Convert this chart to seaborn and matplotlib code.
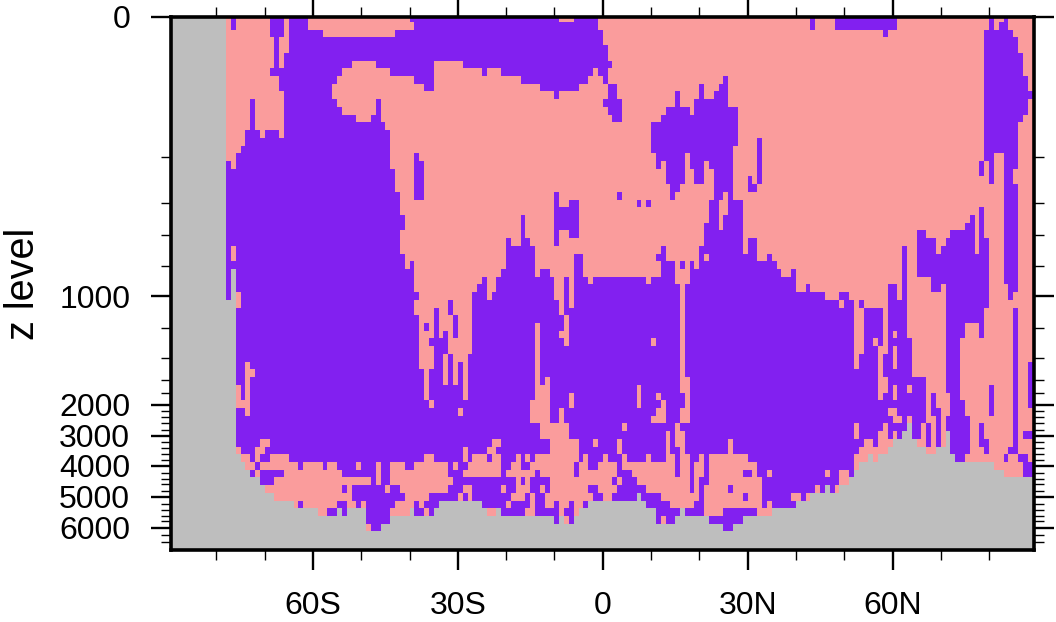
import numpy as np
import matplotlib
matplotlib.use("Agg")
import matplotlib.pyplot as plt
from matplotlib.colors import ListedColormap
import seaborn as sns

# purple cells per model level, as [start, stop) latitude column runs
purple_runs = [
    [(13,14),(21,24),(25,29),(50,81),(84,89),(133,134),(138,151),(170,171),(173,174)],
    [(13,14),(21,24),(25,29),(51,89),(133,134),(138,151),(170,171),(172,174)],
    [(21,24),(25,32),(47,90),(148,149),(169,175)],
    [(22,23),(25,90),(169,176),(179,180)],
    [(22,23),(25,91),(169,176),(179,180)],
    [(22,23),(24,91),(169,177)],
    [(22,23),(24,38),(43,55),(61,92),(169,177)],
    [(21,36),(46,55),(65,66),(69,88),(89,91),(169,177)],
    [(23,35),(51,55),(73,87),(90,91),(115,116),(169,178)],
    [(23,34),(53,55),(77,85),(91,93),(110,111),(114,116),(169,178),(179,180)],
    [(24,34),(80,81),(91,93),(105,106),(110,111),(113,116),(169,180)],
    [(17,18),(24,35),(43,44),(90,94),(105,106),(109,116),(169,178),(179,180)],
    [(17,18),(24,36),(43,44),(91,94),(103,108),(109,118),(169,178),(179,180)],
    [(17,18),(24,39),(42,44),(92,94),(102,118),(169,177)],
    [(17,18),(24,45),(100,118),(169,176)],
    [(16,19),(20,23),(24,46),(100,118),(169,176),(179,180)],
    [(16,46),(100,118),(122,123),(169,176)],
    [(15,46),(100,117),(122,123),(169,176)],
    [(14,46),(51,52),(101,107),(108,117),(122,123),(169,171),(173,176)],
    [(12,13),(14,46),(51,53),(101,102),(103,107),(108,111),(112,117),(122,123),(168,169),(170,171),(173,176),(179,180)],
    [(12,47),(51,53),(103,107),(109,111),(113,117),(122,123),(168,169),(170,171),(173,175),(179,180)],
    [(12,47),(51,53),(103,107),(109,111),(113,117),(120,121),(122,123),(170,171),(173,175)],
    [(12,47),(51,53),(104,106),(113,117),(120,122),(173,176),(179,180)],
    [(12,48),(51,53),(80,81),(93,94),(104,105),(113,115),(116,117),(173,176),(179,180)],
    [(12,48),(80,81),(83,85),(97,98),(99,100),(112,114),(116,119),(173,176),(179,180)],
    [(12,48),(80,85),(112,114),(116,119),(168,169),(173,176),(179,180)],
    [(12,49),(73,74),(80,85),(112,114),(115,119),(166,167),(168,169),(173,176),(179,180)],
    [(12,49),(73,74),(80,85),(111,114),(115,119),(165,167),(168,169),(173,176),(179,180)],
    [(12,48),(73,74),(80,81),(83,85),(111,119),(155,157),(162,167),(168,169),(173,176),(179,180)],
    [(12,48),(70,71),(73,75),(80,81),(111,119),(120,122),(155,159),(161,167),(168,170),(173,176),(179,180)],
    [(12,13),(14,48),(70,76),(102,103),(110,119),(120,122),(152,153),(155,159),(160,167),(168,170),(173,176),(179,180)],
    [(12,13),(14,49),(70,76),(84,86),(101,103),(110,111),(112,122),(124,125),(152,153),(155,170),(173,176),(179,180)],
    [(12,49),(50,51),(70,76),(84,86),(102,105),(106,107),(108,109),(110,126),(152,153),(155,170),(173,176),(179,180)],
    [(12,13),(14,51),(69,76),(77,79),(84,86),(102,105),(108,127),(129,130),(152,153),(155,170),(173,176),(179,180)],
    [(12,13),(14,51),(65,66),(68,80),(82,83),(84,87),(88,99),(100,105),(108,130),(152,153),(158,170),(173,176),(179,180)],
    [(12,13),(14,51),(64,66),(68,80),(82,83),(84,106),(107,130),(132,133),(149,151),(152,153),(158,160),(161,170),(174,176),(179,180)],
    [(12,13),(15,52),(63,66),(67,80),(82,83),(84,106),(107,136),(139,141),(149,151),(152,153),(161,170),(174,175),(179,180)],
    [(15,51),(58,59),(63,81),(82,83),(84,106),(107,139),(140,142),(143,144),(149,153),(161,170),(179,180)],
    [(14,51),(55,56),(58,59),(63,81),(82,106),(107,142),(144,148),(149,153),(161,169),(175,176),(179,180)],
    [(14,52),(55,56),(59,60),(63,82),(83,106),(107,142),(144,148),(149,153),(161,169),(175,176),(179,180)],
    [(14,52),(53,54),(55,56),(59,60),(63,76),(77,82),(83,106),(107,142),(144,148),(149,153),(161,165),(168,169),(175,176),(179,180)],
    [(14,52),(55,56),(57,58),(59,60),(63,76),(77,81),(83,106),(107,142),(144,148),(149,150),(151,153),(161,165),(168,169),(175,176),(179,180)],
    [(14,52),(54,58),(63,76),(77,82),(83,100),(101,106),(107,142),(144,146),(147,148),(149,154),(161,164),(175,176),(179,180)],
    [(14,52),(55,58),(63,76),(77,106),(107,142),(144,147),(149,150),(151,154),(161,164),(175,176),(179,180)],
    [(14,52),(55,57),(58,59),(62,76),(77,106),(107,142),(143,147),(148,150),(151,154),(161,164),(175,176),(179,180)],
    [(14,16),(17,52),(55,57),(58,59),(60,61),(62,76),(77,106),(107,142),(143,147),(148,150),(151,154),(161,164),(175,176),(178,180)],
    [(14,16),(18,53),(54,57),(58,59),(60,61),(62,76),(77,106),(107,147),(148,154),(161,164),(175,176),(178,180)],
    [(14,16),(17,53),(54,57),(58,59),(60,61),(62,76),(77,78),(79,106),(108,147),(149,157),(161,164),(175,176),(178,180)],
    [(15,16),(17,53),(54,61),(62,76),(79,97),(98,106),(108,147),(149,150),(151,153),(154,157),(161,164),(170,171),(175,176),(178,180)],
    [(15,16),(17,53),(54,61),(62,76),(79,83),(84,97),(98,101),(102,107),(108,147),(148,150),(151,157),(158,159),(162,164),(170,171),(175,176),(178,180)],
    [(17,54),(55,75),(79,83),(84,97),(98,102),(103,107),(108,157),(158,159),(162,165),(170,171),(175,176),(178,180)],
    [(14,16),(17,60),(61,75),(79,81),(82,101),(103,106),(108,149),(151,157),(158,160),(162,165),(170,171),(175,176),(179,180)],
    [(14,75),(79,81),(82,100),(103,106),(108,150),(152,153),(154,157),(159,160),(161,166),(175,176),(179,180)],
    [(14,77),(83,94),(95,105),(106,142),(143,148),(149,153),(154,156),(157,158),(159,160),(161,166),(168,169),(175,176)],
    [(14,77),(83,103),(104,105),(107,142),(143,147),(149,150),(151,152),(154,156),(157,158),(159,160),(162,166),(168,169),(175,176),(177,179)],
    [(14,19),(21,67),(69,79),(85,88),(89,93),(94,103),(104,105),(107,116),(117,144),(146,147),(157,158),(159,160),(162,166),(168,170),(175,176)],
    [(15,18),(20,61),(62,66),(68,79),(85,93),(94,103),(104,106),(107,116),(117,143),(162,166),(169,170),(174,176)],
    [(17,18),(19,21),(25,53),(55,61),(62,63),(66,67),(69,72),(73,74),(75,76),(85,86),(87,90),(91,94),(95,99),(100,103),(105,106),(108,110),(111,112),(120,142),(163,165),(173,174),(176,178),(179,180)],
    [(18,19),(27,28),(32,33),(35,39),(40,43),(44,46),(49,51),(58,59),(60,62),(69,71),(73,75),(84,85),(87,89),(93,94),(105,106),(108,109),(111,112),(122,142),(177,180)],
    [(17,18),(19,24),(36,43),(44,46),(58,61),(69,70),(76,77),(84,85),(93,96),(105,106),(108,109),(111,112),(119,121),(122,124),(125,136),(137,139),(141,142),(177,180)],
    [(19,22),(42,43),(44,46),(59,72),(73,74),(75,79),(92,93),(94,97),(108,109),(110,112),(123,139)],
    [(36,37),(38,45),(46,48),(58,61),(63,69),(70,72),(75,77),(78,79),(87,89),(93,99),(108,109),(110,111),(116,117),(123,134),(135,136),(137,138)],
    [(38,49),(54,60),(61,62),(63,71),(74,75),(76,78),(88,90),(92,97),(98,102),(110,111),(119,120),(123,129),(131,132)],
    [(27,28),(35,37),(39,40),(41,47),(51,52),(53,56),(65,70),(71,75),(76,78),(80,81),(83,84),(86,87),(99,104),(109,111),(123,124),(125,130)],
    [(33,35),(36,37),(41,46),(51,53),(54,55),(69,74),(76,81),(82,84),(101,106),(107,111),(115,122)],
    [(41,46),(80,81),(83,84),(101,102),(103,105),(112,119)],
    [(42,44),(115,117)],
]

# first land level in each latitude column
seafloor_level = [
    0,0,0,0,0,0,0,0,0,0,0,0,37,33,57,58,59,60,60,61,62,62,63,63,63,63,64,64,64,64,
    64,65,65,65,65,64,65,64,64,64,64,67,67,67,66,66,65,65,65,65,64,65,65,65,65,64,63,63,63,63,
    63,63,63,63,63,64,65,65,64,65,65,65,65,65,65,65,65,65,65,65,66,65,66,66,65,64,64,63,63,63,
    63,63,63,63,63,63,63,62,63,64,64,66,66,66,66,65,64,65,65,65,65,65,66,66,66,67,67,66,66,65,
    65,65,65,65,65,64,64,64,64,64,63,63,63,62,62,62,61,62,62,61,61,60,59,58,58,57,58,57,57,56,
    55,55,54,53,55,56,56,57,57,56,56,54,57,58,58,58,58,58,58,58,58,59,59,60,60,60,60,60,60,60,
]

lat_tick_labels = ["60S", "30S", "0", "30N", "60N"]
lat_ticks = [-60, -30, 0, 30, 60]
lat_minor_ticks = [-80, -70, -50, -40, -20, -10, 10, 20, 40, 50, 70, 80]

z_tick_labels = ["0", "1000", "2000", "3000", "4000", "5000", "6000"]
z_tick_levels = [0.35, 36.5, 50.6, 54.6, 58.5, 62.5, 66.5]
z_minor_levels = [18.5, 24.4, 28.6, 32.6, 40.6, 44.5, 47.4, 49.0, 51.4, 52.2, 52.9, 53.8,
                  55.4, 56.2, 57.0, 57.7, 59.4, 60.2, 60.9, 61.7, 63.4, 64.2, 65.0, 65.7,
                  67.5, 68.3]

n_levels = 70
n_lats = 180

grid = np.zeros((n_levels, n_lats))
for level, runs in enumerate(purple_runs):
    for start, stop in runs:
        grid[level, start:stop] = 1
for col, level in enumerate(seafloor_level):
    grid[level:, col] = 2

sns.set_style("white")
plt.rcParams["font.family"] = ["Liberation Sans", "DejaVu Sans"]

fig = plt.figure(figsize=(10.56, 6.22), dpi=100)
ax = fig.add_axes([171 / 1056, 1 - 550 / 622, 863 / 1056, 533 / 622])

cmap = ListedColormap(["#FA9C9C", "#8220F0", "#BEBEBE"])
sns.heatmap(grid, cmap=cmap, vmin=0, vmax=2, cbar=False, ax=ax,
            xticklabels=False, yticklabels=False)

ax.set_xlim(0.6, 179.3)
ax.set_ylim(69.4, 0.35)

ax.set_xticks([v + 90 for v in lat_ticks])
ax.set_xticklabels(lat_tick_labels)
ax.set_xticks([v + 90 for v in lat_minor_ticks], minor=True)
ax.set_yticks(z_tick_levels)
ax.set_yticklabels(z_tick_labels)
ax.set_yticks(z_minor_levels, minor=True)

for side in ax.spines.values():
    side.set_visible(True)
    side.set_linewidth(2.6)
    side.set_color("black")

ax.tick_params(which="major", direction="out", length=14.4, width=1.7, labelsize=23,
               top=True, right=True, bottom=True, left=True, pad=15, colors="black")
ax.tick_params(which="minor", direction="out", length=7.2, width=1.0,
               top=True, right=True, bottom=True, left=True, colors="black")

ax.set_xlabel("")
ax.set_ylabel("z level", fontsize=28.5, color="black")
ax.yaxis.set_label_coords(-0.149, 0.5)

fig.savefig("out.png", dpi=100)
